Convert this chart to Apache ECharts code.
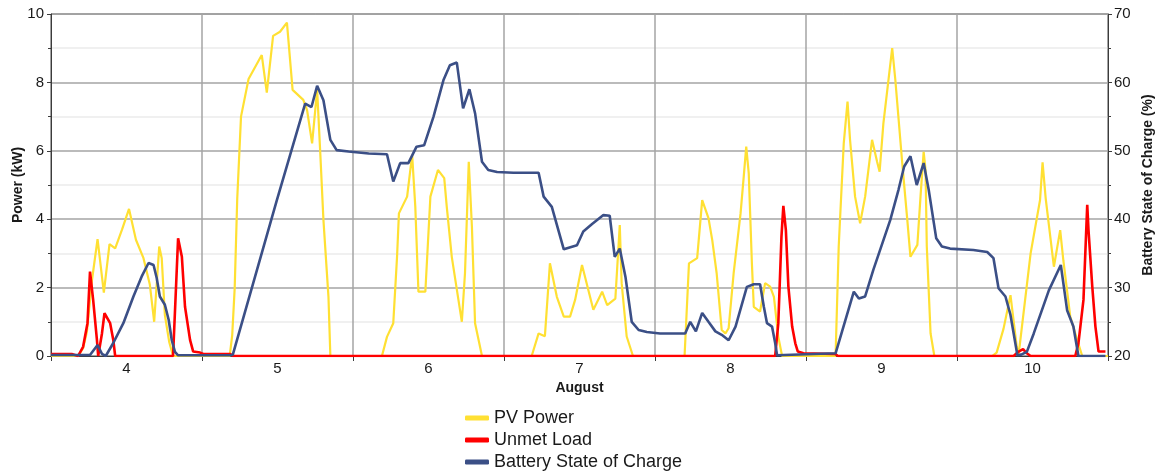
<!DOCTYPE html>
<html>
<head>
<meta charset="utf-8">
<script src="https://cdn.jsdelivr.net/npm/echarts@6/dist/echarts.min.js"></script>
<style>
html,body{margin:0;padding:0;background:#fff;}
#chart{width:1159px;height:473px;}
</style>
</head>
<body>
<div id="chart"></div>
<script>
// Time axis: hours since 4 August 00:00 (7 days shown)
var dayLabels = ['4', '5', '6', '7', '8', '9', '10'];

var pvHours = [0, 4.3, 5.1, 5.7, 6.5, 7.4, 8.4, 9.3, 10.2, 11.3, 12.4, 13.5, 14.7, 15.7, 16.4, 17.2, 17.6, 18.1, 18.8, 19.4,
  28.4, 28.8, 29.2, 29.6, 30.2, 31.4, 33.5, 34.3, 35.3, 36.4, 37.5, 38.4, 40.1, 40.7, 41.5, 42.3, 42.8, 43.3, 44.1, 44.4,
  52.6, 53.4, 54.4, 55.0, 55.3, 56.6, 57.4, 57.9, 58.4, 59.5, 60.3, 61.5, 62.5, 62.9, 63.7, 65.3, 65.8, 66.4, 66.9, 67.4, 68.5,
  76.4, 77.5, 78.5, 79.3, 80.4, 81.5, 82.5, 83.3, 84.4, 86.2, 87.6, 88.4, 89.7, 90.4, 90.7, 91.5, 92.5,
  100.7, 101.4, 102.7, 103.5, 104.5, 105.1, 105.8, 106.6, 107.2, 107.7, 108.5, 109.6, 110.1, 110.5, 110.9, 111.4, 111.7, 112.7, 113.5, 114.3, 114.9, 115.6, 116.2,
  124.7, 125.2, 126.0, 126.6, 127.0, 127.8, 128.6, 129.4, 130.5, 131.3, 131.7, 132.3, 133.7, 134.2, 135.3, 136.1, 136.6, 137.7, 138.2, 138.7, 139.0, 139.2, 139.8, 140.4,
  149.6, 150.3, 151.4, 152.5, 153.5, 153.8, 155.7, 157.2, 157.6, 158.1, 159.4, 160.4, 160.9, 162.0, 163.1, 163.9, 168];
var pvPower = [0, 0, 0.23, 0.7, 2.2, 3.42, 1.85, 3.27, 3.15, 3.7, 4.3, 3.4, 2.86, 2.1, 1.0, 3.2, 2.86, 1.2, 0.4, 0,
  0, 0.6, 2.0, 4.6, 7.0, 8.1, 8.8, 7.7, 9.36, 9.48, 9.75, 7.78, 7.49, 7.19, 6.22, 7.78, 5.93, 3.98, 1.73, 0,
  0, 0.56, 0.96, 2.9, 4.17, 4.66, 5.88, 4.37, 1.88, 1.88, 4.66, 5.44, 5.2, 4.37, 2.9, 1.0, 2.42, 5.68, 3.78, 0.96, 0,
  0, 0.66, 0.58, 2.71, 1.73, 1.15, 1.15, 1.64, 2.66, 1.35, 1.88, 1.49, 1.68, 3.83, 2.13, 0.57, 0,
  0, 2.71, 2.86, 4.56, 4.03, 3.39, 2.42, 0.76, 0.66, 0.81, 2.42, 4.17, 5.24, 6.12, 5.34, 2.71, 1.44, 1.3, 2.13, 2.03, 1.73, 0.56, 0,
  0, 3.2, 6.22, 7.44, 6.32, 4.66, 3.88, 4.66, 6.32, 5.68, 5.39, 6.8, 9.0, 8.07, 5.63, 3.98, 2.9, 3.25, 4.66, 5.97, 5.44, 3.2, 0.66, 0,
  0, 0.1, 0.8, 1.78, 0.27, 0.05, 3.0, 4.56, 5.66, 4.6, 2.61, 3.68, 2.8, 1.15, 0.47, 0, 0];

var unmetHours = [0, 3.3, 4.3, 5.1, 5.8, 6.2, 6.4, 6.7, 7.3, 7.5, 8.1, 8.5, 8.7, 9.4, 9.9, 10.2,
  19.4, 19.9, 20.2, 20.5, 20.8, 21.3, 22.1, 22.6, 23.7, 24.2, 28.5, 28.9,
  115.1, 115.6, 116.1, 116.4, 116.8, 117.2, 117.8, 118.3, 118.7, 119.6, 124.6, 125.1,
  153.0, 153.8, 154.5, 155.1, 155.7, 162.8, 163.3, 164.1, 164.7, 164.9, 165.5, 166.0, 166.5, 167.6];
var unmetLoad = [0.06, 0.06, 0, 0.27, 0.96, 2.47, 2.51, 1.64, 0.47, 0, 0.66, 1.25, 1.2, 0.96, 0.47, 0,
  0, 2.14, 3.44, 3.44, 2.9, 1.44, 0.47, 0.13, 0.1, 0.06, 0.06, 0,
  0, 0.96, 3.49, 4.39, 3.68, 2.03, 0.86, 0.37, 0.13, 0.08, 0.06, 0,
  0, 0.13, 0.2, 0.08, 0, 0, 0.37, 1.64, 4.42, 3.68, 2.03, 0.86, 0.13, 0.13];

var socHours = [0, 6.2, 7.4, 8.1, 8.7, 9.9, 11.5, 13.1, 14.4, 15.5,
  16.3, 16.8, 17.3, 18.1, 18.7, 19.2, 19.7, 20.2, 28.5, 28.9,
  35.9, 40.4, 41.4, 42.3, 43.3, 44.4, 45.4, 47.3, 50.5, 53.4,
  54.4, 55.5, 56.8, 58.1, 59.3, 60.8, 62.4, 63.4, 64.5, 64.8,
  65.5, 66.5, 67.4, 68.5, 69.5, 70.9, 73.5, 77.5, 78.3, 79.6,
  81.5, 83.6, 84.6, 86.0, 87.8, 88.8, 89.6, 90.4, 91.3, 92.3,
  93.4, 94.7, 96.8, 100.8, 101.6, 102.5, 103.5, 104.5, 105.6, 106.6,
  107.7, 108.8, 110.6, 111.7, 112.7, 113.3, 113.8, 114.6, 115.1, 115.4,
  124.7, 127.6, 128.4, 129.4, 130.7, 133.4, 134.7, 135.6, 136.6, 137.6,
  138.7, 139.5, 140.7, 141.6, 142.9, 146.6, 148.8, 149.8, 150.6, 151.7,
  152.5, 153.6, 154.2, 155.1, 156.2, 158.6, 160.5, 161.5, 162.5, 163.3,
  167.6];
var batterySoc = [20.15, 20.15, 21.6, 20.3, 20.0, 21.9, 24.8, 28.7, 31.6, 33.6,
  33.3, 31.4, 28.7, 27.5, 25.3, 22.3, 20.6, 20.1, 20.1, 20.2,
  42.8, 56.9, 56.4, 59.5, 57.4, 51.6, 50.1, 49.9, 49.6, 49.5,
  45.5, 48.2, 48.2, 50.6, 50.8, 55.0, 60.4, 62.5, 62.9, 62.8,
  56.2, 59.0, 55.5, 48.4, 47.2, 46.9, 46.8, 46.8, 43.3, 41.8,
  35.6, 36.2, 38.2, 39.3, 40.6, 40.5, 34.5, 35.7, 31.6, 25.0,
  23.8, 23.5, 23.3, 23.3, 25.0, 23.6, 26.3, 25.0, 23.6, 23.1,
  22.3, 24.3, 30.1, 30.5, 30.5, 27.2, 24.8, 24.3, 21.9, 20.1,
  20.4, 29.4, 28.4, 28.7, 32.6, 39.9, 44.3, 47.7, 49.2, 45.0,
  48.2, 44.3, 37.2, 36.0, 35.7, 35.5, 35.2, 34.3, 29.9, 28.7,
  26.0, 20.1, 20.2, 20.6, 23.3, 29.6, 33.3, 26.7, 24.3, 20.0,
  20.0];

function zip(xs, ys) { return xs.map(function (x, i) { return [x, ys[i]]; }); }

var FONT = '"Liberation Sans", Arial, sans-serif';
var gridRect = { left: 51, top: 14, width: 1057, height: 342, outerBoundsMode: 'none', containLabel: false };
var axisDark = '#3c3c3c';
var gridGray = '#a4a4a4';

var chart = echarts.init(document.getElementById('chart'), null, { renderer: 'canvas' });
chart.setOption({
  animation: false,
  backgroundColor: '#ffffff',
  textStyle: { fontFamily: FONT },
  grid: [
    Object.assign({ show: true, borderColor: axisDark, borderWidth: 1 }, gridRect),
    Object.assign({ show: false }, gridRect)
  ],
  legend: {
    orient: 'vertical',
    left: 465,
    top: 408,
    height: 120,
    padding: 0,
    itemWidth: 24,
    itemHeight: 5,
    itemGap: 2,
    icon: 'roundRect',
    textStyle: { fontFamily: FONT, fontSize: 18, lineHeight: 20, color: '#1a1a1a' },
    data: ['PV Power', 'Unmet Load', 'Battery State of Charge']
  },
  xAxis: [
    {
      type: 'value', gridIndex: 0, min: 0, max: 168, interval: 24,
      axisLine: { show: true, onZero: false, lineStyle: { color: axisDark, width: 1 } },
      axisTick: { show: true, inside: false, length: 5, lineStyle: { color: axisDark } },
      axisLabel: { show: false },
      splitLine: { show: true, lineStyle: { color: gridGray, width: 1.5 } }
    },
    {
      type: 'value', gridIndex: 1, min: 0, max: 168, interval: 12,
      axisLine: { show: false, onZero: false },
      axisTick: { show: false },
      splitLine: { show: false },
      axisLabel: {
        show: true, margin: 5, fontSize: 15, color: '#1a1a1a', fontFamily: FONT,
        formatter: function (v) {
          var k = Math.round(v / 12);
          return (k % 2 === 1) ? dayLabels[(k - 1) / 2] : '';
        }
      },
      name: 'August', nameLocation: 'middle', nameGap: 20,
      nameTextStyle: { fontSize: 14, fontWeight: 'bold', color: '#1a1a1a', fontFamily: FONT }
    }
  ],
  yAxis: [
    {
      type: 'value', gridIndex: 0, min: 0, max: 10, interval: 2, position: 'left',
      axisLine: { show: true, lineStyle: { color: axisDark, width: 1 } },
      axisTick: { show: true, length: 4, lineStyle: { color: axisDark } },
      minorTick: { show: true, splitNumber: 2, length: 3, lineStyle: { color: axisDark } },
      splitLine: { show: true, lineStyle: { color: gridGray, width: 1.5 } },
      minorSplitLine: { show: true, lineStyle: { color: '#ececec', width: 1.5 } },
      axisLabel: { margin: 7, fontSize: 15, color: '#1a1a1a', fontFamily: FONT },
      name: 'Power (kW)', nameLocation: 'middle', nameGap: 26, nameRotate: 90, nameMoveOverlap: false,
      nameTextStyle: { fontSize: 14, fontWeight: 'bold', color: '#1a1a1a', fontFamily: FONT }
    },
    {
      type: 'value', gridIndex: 0, min: 20, max: 70, interval: 10, position: 'right',
      axisLine: { show: true, lineStyle: { color: axisDark, width: 1 } },
      axisTick: { show: true, length: 4, lineStyle: { color: axisDark } },
      minorTick: { show: true, splitNumber: 2, length: 3, lineStyle: { color: axisDark } },
      splitLine: { show: false },
      axisLabel: { margin: 6, fontSize: 15, color: '#1a1a1a', fontFamily: FONT },
      name: 'Battery State of Charge (%)', nameLocation: 'middle', nameGap: 33, nameRotate: 90,
      nameTextStyle: { fontSize: 14, fontWeight: 'bold', color: '#1a1a1a', fontFamily: FONT }
    },
    {
      type: 'value', gridIndex: 1, min: 0, max: 10, show: false
    }
  ],
  series: [
    {
      name: 'PV Power', type: 'line', xAxisIndex: 0, yAxisIndex: 0,
      data: zip(pvHours, pvPower), showSymbol: false, symbol: 'none', z: 2,
      itemStyle: { color: '#ffe033' },
      lineStyle: { color: '#ffe033', width: 2.2 }
    },
    {
      name: 'Unmet Load', type: 'line', xAxisIndex: 0, yAxisIndex: 0,
      data: zip(unmetHours, unmetLoad), showSymbol: false, symbol: 'none', z: 3,
      itemStyle: { color: '#ff0000' },
      lineStyle: { color: '#ff0000', width: 2.6 }
    },
    {
      name: 'Battery State of Charge', type: 'line', xAxisIndex: 0, yAxisIndex: 1,
      data: zip(socHours, batterySoc), showSymbol: false, symbol: 'none', z: 4,
      itemStyle: { color: '#3b4f86' },
      lineStyle: { color: '#3b4f86', width: 2.6 }
    }
  ]
});
</script>
</body>
</html>
